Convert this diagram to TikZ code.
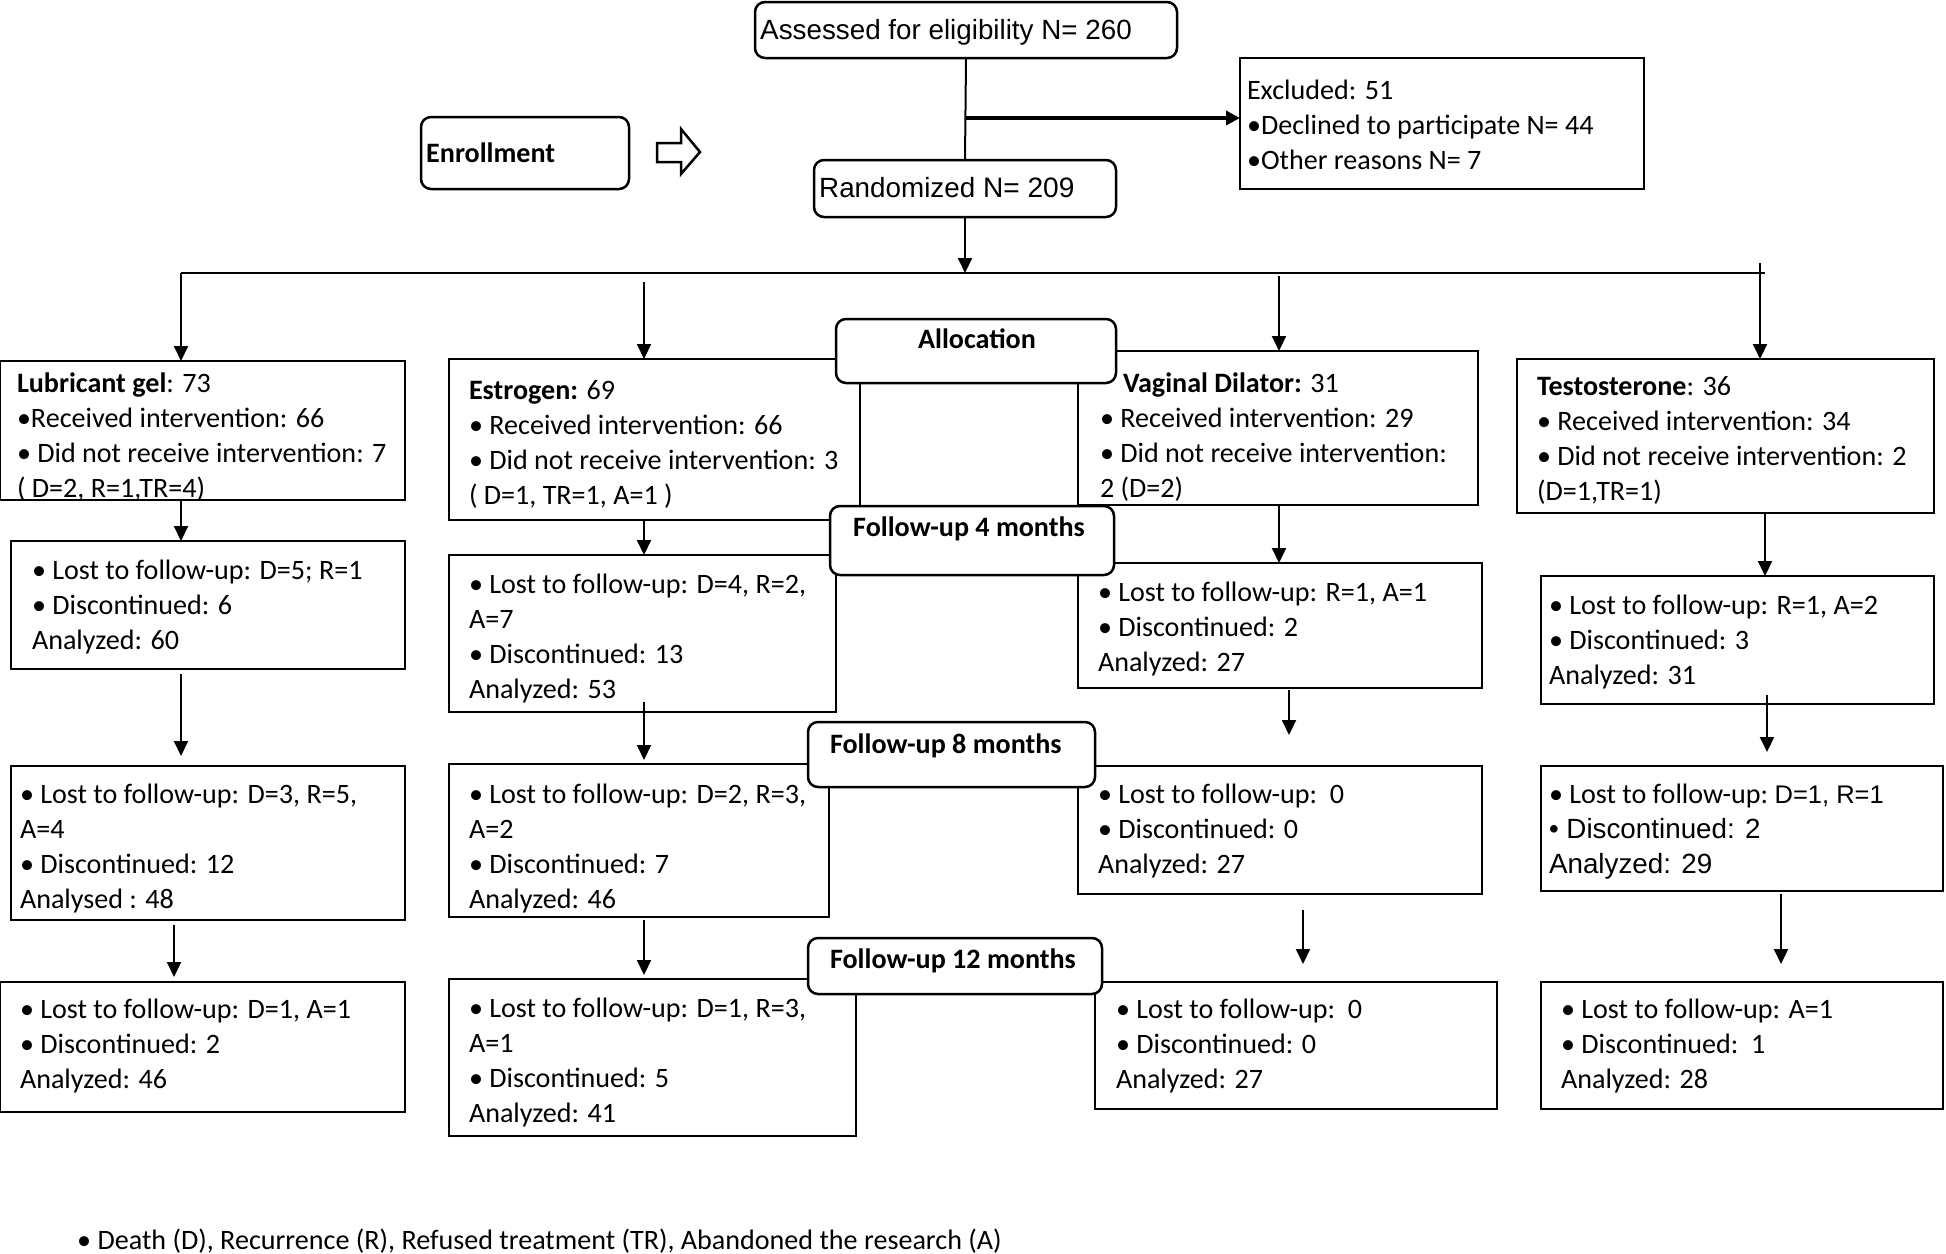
\documentclass[tikz,border=0pt]{standalone}
\usepackage{fontspec}
\setmainfont{Carlito}
\newfontfamily\arialf{Liberation Sans}
\usetikzlibrary{arrows.meta}
\newcommand\calf{\fontsize{28.1}{35}\selectfont}
\newcommand\arf{\arialf\fontsize{27.8}{35}\selectfont}
\newcommand\bx[6]{\node[#6, minimum width={(#4-#2)*1pt}, minimum height={(#5-#3)*1pt}, anchor=north west] (#1) at (#2,#3) {};}
\newcommand\tx[4]{\node[txt] (#1) at (#2,{#3-22.5}) {\strut #4};}
\tikzset{
  boxs/.style={draw, line width=2.5pt, inner sep=0pt, outer sep=0pt, fill=white},
  rbox/.style={boxs, rounded corners=10pt},
  txt/.style={inner sep=0pt, outer sep=0pt, anchor=north west, align=left, font=\calf},
  lbl/.style={inner sep=0pt, outer sep=0pt, anchor=base, font=\calf\bfseries},
  arr/.style={line width=2pt, -{Triangle[width=14pt,length=15pt]}},
  ln/.style={line width=2pt},
}
\begin{document}
\begin{tikzpicture}[x=1pt,y=-1pt]
\useasboundingbox (0,0) rectangle (1946,1253);
% ---------- header ----------
\bx{asse}{755}{2}{1177}{58}{rbox}
\node[inner sep=0pt, anchor=base west, font=\arf] (asset) at (760,39) {Assessed for eligibility N= 260};
\bx{excl}{1240}{58}{1644}{189}{boxs}
\tx{exclt}{1247}{97}{Excluded: 51\\•Declined to participate N= 44\\•Other reasons N= 7}
\bx{enr}{421}{117}{629}{189}{rbox}
\node[inner sep=0pt, anchor=base west, font=\calf\bfseries] (enrt) at (426,162) {Enrollment};
\draw[line width=2.5pt, fill=white] (657,143) -- (681,143) -- (681,129) -- (700,152) -- (681,174) -- (681,162) -- (657,162) -- cycle;
\bx{rand}{814}{160}{1116}{217}{rbox}
\node[inner sep=0pt, anchor=base west] (randt) at (819,197) {\arf Randomized\calf{} N= 209};
\draw[ln] (asse.south) -- (rand.north);
\coordinate (br) at (966,118);
\draw[line width=3.5pt, -{Triangle[width=14pt,length=14pt]}] (br) -- (br -| excl.west);
\coordinate (hl) at (181,273);
\coordinate (hr) at (1765,273);
\draw[ln] (hl) -- (hr);
\draw[arr] (rand.south) -- (rand.south |- hl);
% ---------- row 1 ----------
\bx{lub1}{0}{361}{405}{500}{boxs}
\bx{est1}{449}{359}{860}{520}{boxs}
\bx{vag1}{1078}{351}{1478}{505}{boxs}
\bx{tes1}{1517}{359}{1934}{513}{boxs}
% ---------- row 2 ----------
\bx{lub2}{11}{541}{405}{669}{boxs}
\bx{est2}{449}{555}{836}{712}{boxs}
\bx{vag2}{1078}{563}{1482}{688}{boxs}
\bx{tes2}{1541}{576}{1934}{704}{boxs}
% ---------- row 3 ----------
\bx{lub3}{11}{766}{405}{920}{boxs}
\bx{est3}{449}{764}{829}{917}{boxs}
\bx{vag3}{1078}{766}{1482}{894}{boxs}
\bx{tes3}{1541}{766}{1943}{891}{boxs}
% ---------- row 4 ----------
\bx{lub4}{0}{982}{405}{1112}{boxs}
\bx{est4}{449}{979}{856}{1136}{boxs}
\bx{vag4}{1095}{982}{1497}{1109}{boxs}
\bx{tes4}{1541}{982}{1943}{1109}{boxs}
% ---------- stage labels ----------
\bx{alloc}{836}{319}{1116}{383}{rbox}
\node[lbl] (alloct) at (977,348) {Allocation};
\bx{fu4}{830}{506}{1114}{575}{rbox}
\node[lbl] (fu4t) at (969,536) {Follow-up 4 months};
\bx{fu8}{808}{722}{1095}{787}{rbox}
\node[lbl, anchor=base west] (fu8t) at (830,753) {Follow-up 8 months};
\bx{fu12}{808}{938}{1102}{994}{rbox}
\node[lbl, anchor=base west] (fu12t) at (830,968) {Follow-up 12 months};
% ---------- texts ----------
\tx{lub1t}{17}{390}{\textbf{Lubricant gel}: 73\\•Received intervention: 66\\• Did not receive intervention: 7\\( D=2, R=1,TR=4)}
\tx{est1t}{469}{397}{\textbf{Estrogen:} 69\\• Received intervention: 66\\• Did not receive intervention: 3\\( D=1, TR=1, A=1 )}
\tx{vag1t}{1100}{390}{\hspace*{23pt}\textbf{Vaginal Dilator:} 31\\• Received intervention: 29\\• Did not receive intervention:\\2 (D=2)}
\tx{tes1t}{1537}{393}{\textbf{Testosterone}: 36\\• Received intervention: 34\\• Did not receive intervention: 2\\(D=1,TR=1)}
\tx{lub2t}{32}{577}{• Lost to follow-up: D=5; R=1\\• Discontinued: 6\\Analyzed: 60}
\tx{est2t}{469}{591}{• Lost to follow-up: D=4, R=2,\\A=7\\• Discontinued: 13\\Analyzed: 53}
\tx{vag2t}{1098}{599}{• Lost to follow-up: R=1, A=1\\• Discontinued: 2\\Analyzed: 27}
\tx{tes2t}{1549}{612}{• Lost to follow-up: R=1, A=2\\• Discontinued: 3\\Analyzed: 31}
\tx{lub3t}{20}{801}{• Lost to follow-up: D=3, R=5,\\A=4\\• Discontinued: 12\\Analysed : 48}
\tx{est3t}{469}{801}{• Lost to follow-up: D=2, R=3,\\A=2\\• Discontinued: 7\\Analyzed: 46}
\tx{vag3t}{1098}{801}{• Lost to follow-up:\ \ 0\\• Discontinued: 0\\Analyzed: 27}
\tx{tes3t}{1549}{801}{• Lost to follow-up:\ {\arialf\fontsize{25.5}{35}\selectfont D=1, R=1}\\{\arf • Discontinued: 2}\\{\arf Analyzed: 29}}
\tx{lub4t}{20}{1016}{• Lost to follow-up: D=1, A=1\\• Discontinued: 2\\Analyzed: 46}
\tx{est4t}{469}{1015}{• Lost to follow-up: D=1, R=3,\\A=1\\• Discontinued: 5\\Analyzed: 41}
\tx{vag4t}{1116}{1016}{• Lost to follow-up:\ \ 0\\• Discontinued: 0\\Analyzed: 27}
\tx{tes4t}{1561}{1016}{• Lost to follow-up: A=1\\• Discontinued:\ \ 1\\Analyzed: 28}
\node[inner sep=0pt, anchor=base west, font=\calf] (foot) at (77,1249) {• Death (D), Recurrence (R), Refused treatment (TR), Abandoned the research (A)};
% ---------- arrows row 1 ----------
\coordinate (s1a) at (181,273);
\coordinate (s1b) at (644,282);
\coordinate (s1c) at (1279,276);
\coordinate (s1d) at (1760,263);
\draw[arr] (s1a) -- (s1a |- lub1.north);
\draw[arr] (s1b) -- (s1b |- est1.north);
\draw[arr] (s1c) -- (s1c |- vag1.north);
\draw[arr] (s1d) -- (s1d |- tes1.north);
% ---------- arrows row 2 ----------
\coordinate (s2a) at (181,500);
\coordinate (s2b) at (644,520);
\coordinate (s2c) at (1279,505);
\coordinate (s2d) at (1765,514);
\draw[arr] (s2a) -- (s2a |- lub2.north);
\draw[arr] (s2b) -- (s2b |- est2.north);
\draw[arr] (s2c) -- (s2c |- vag2.north);
\draw[arr] (s2d) -- (s2d |- tes2.north);
% ---------- arrows row 3 ----------
\coordinate (s3a) at (181,674);
\coordinate (s3b) at (644,702);
\coordinate (s3c) at (1289,690);
\coordinate (s3d) at (1767,695);
\draw[arr, shorten >=10pt] (s3a) -- (s3a |- lub3.north);
\draw[arr, shorten >=4pt] (s3b) -- (s3b |- est3.north);
\draw[arr, shorten >=31pt] (s3c) -- (s3c |- vag3.north);
\draw[arr, shorten >=14pt] (s3d) -- (s3d |- tes3.north);
% ---------- arrows row 4 ----------
\coordinate (s4a) at (174,925);
\coordinate (s4b) at (644,920);
\coordinate (s4c) at (1303,910);
\coordinate (s4d) at (1781,894);
\draw[arr, shorten >=5pt] (s4a) -- (s4a |- lub4.north);
\draw[arr, shorten >=4pt] (s4b) -- (s4b |- est4.north);
\draw[arr, shorten >=18pt] (s4c) -- (s4c |- vag4.north);
\draw[arr, shorten >=18pt] (s4d) -- (s4d |- tes4.north);
\end{tikzpicture}
\end{document}
